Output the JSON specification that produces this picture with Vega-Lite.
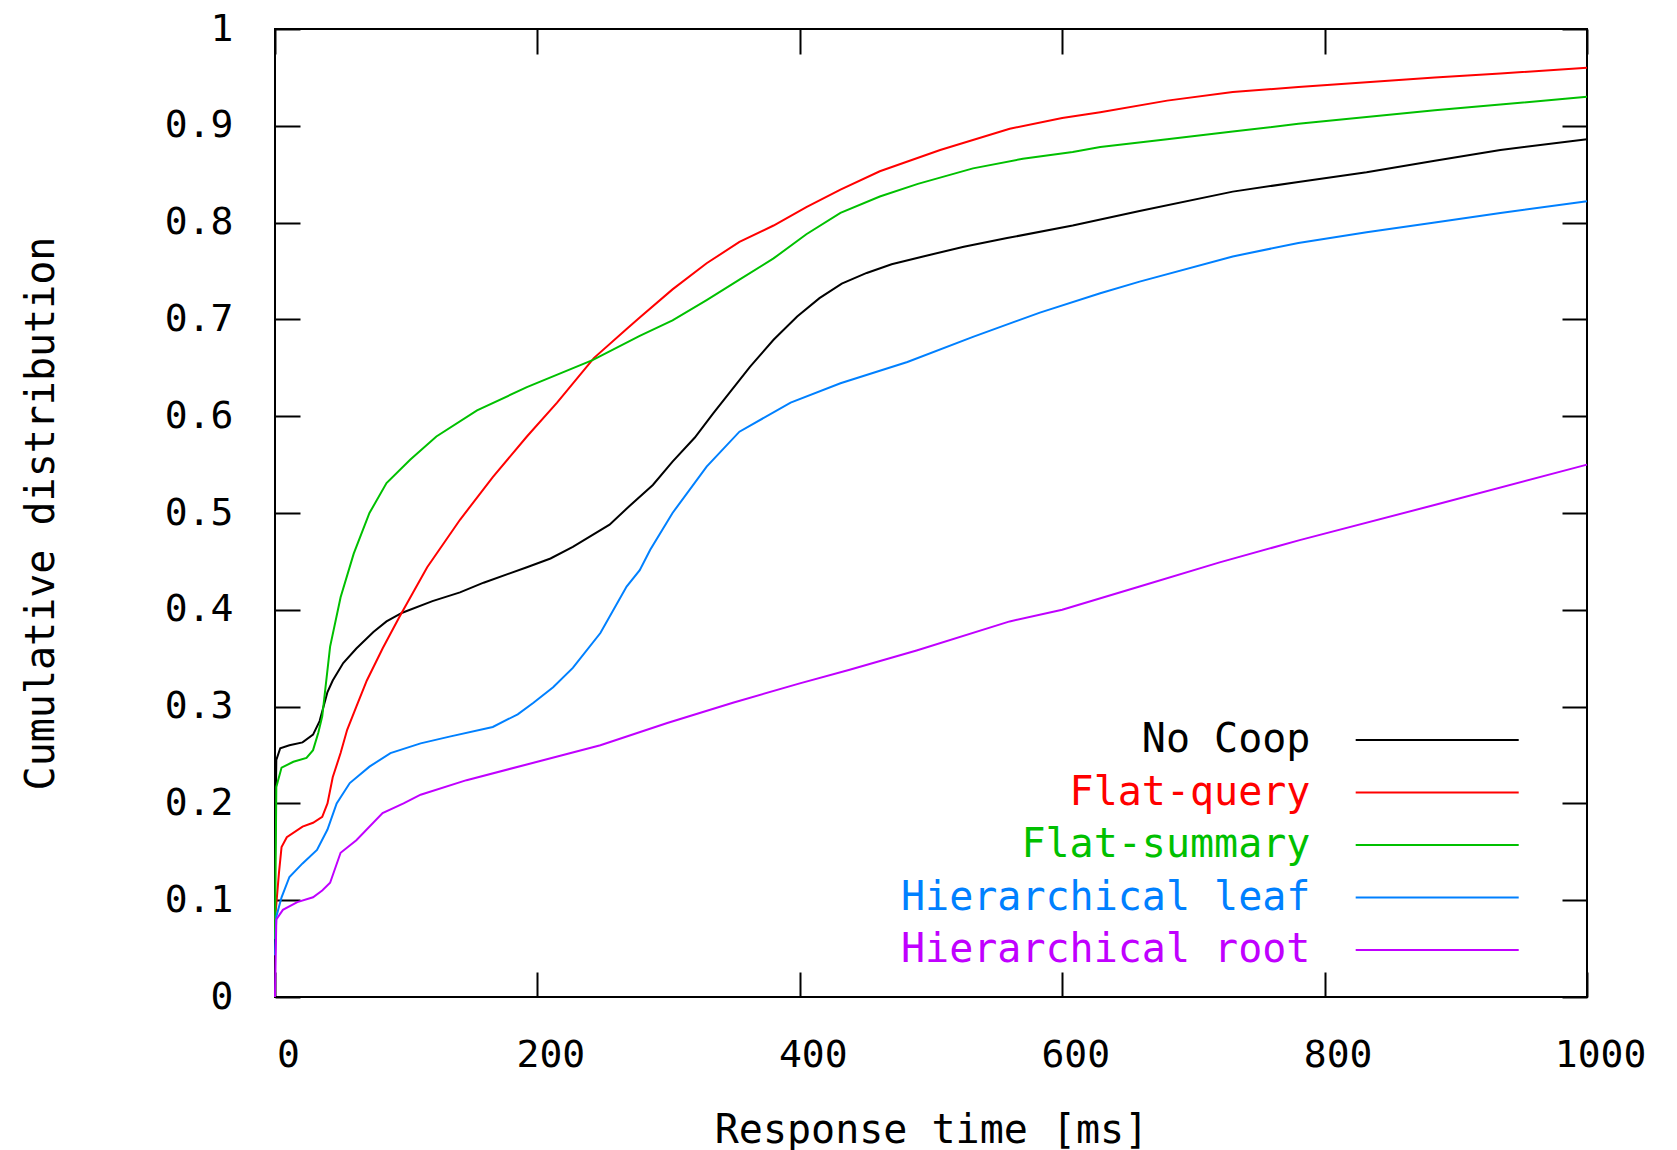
{
  "$schema": "https://vega.github.io/schema/vega-lite/v6.json",
  "width": 1312,
  "height": 968,
  "autosize": {"type": "none"},
  "padding": {"left": 275, "top": 29, "right": 90, "bottom": 153},
  "background": "white",
  "data": {"values": [
    {"s":"No Coop","t":0,"p":0.14},{"s":"No Coop","t":1,"p":0.245},{"s":"No Coop","t":4,"p":0.257},{"s":"No Coop","t":11,"p":0.26},{"s":"No Coop","t":21,"p":0.263},{"s":"No Coop","t":29,"p":0.271},{"s":"No Coop","t":34,"p":0.285},{"s":"No Coop","t":40,"p":0.315},{"s":"No Coop","t":44,"p":0.327},{"s":"No Coop","t":52,"p":0.345},{"s":"No Coop","t":62,"p":0.36},{"s":"No Coop","t":75,"p":0.377},{"s":"No Coop","t":85,"p":0.388},{"s":"No Coop","t":97,"p":0.397},{"s":"No Coop","t":120,"p":0.409},{"s":"No Coop","t":141,"p":0.418},{"s":"No Coop","t":159,"p":0.428},{"s":"No Coop","t":192,"p":0.444},{"s":"No Coop","t":210,"p":0.453},{"s":"No Coop","t":227,"p":0.465},{"s":"No Coop","t":255,"p":0.488},{"s":"No Coop","t":270,"p":0.507},{"s":"No Coop","t":288,"p":0.529},{"s":"No Coop","t":303,"p":0.553},{"s":"No Coop","t":320,"p":0.578},{"s":"No Coop","t":334,"p":0.603},{"s":"No Coop","t":362,"p":0.651},{"s":"No Coop","t":380,"p":0.679},{"s":"No Coop","t":398,"p":0.703},{"s":"No Coop","t":415,"p":0.722},{"s":"No Coop","t":432,"p":0.737},{"s":"No Coop","t":451,"p":0.748},{"s":"No Coop","t":470,"p":0.757},{"s":"No Coop","t":494,"p":0.765},{"s":"No Coop","t":525,"p":0.775},{"s":"No Coop","t":558,"p":0.784},{"s":"No Coop","t":608,"p":0.797},{"s":"No Coop","t":659,"p":0.812},{"s":"No Coop","t":730,"p":0.832},{"s":"No Coop","t":780,"p":0.842},{"s":"No Coop","t":832,"p":0.852},{"s":"No Coop","t":884,"p":0.864},{"s":"No Coop","t":934,"p":0.875},{"s":"No Coop","t":1000,"p":0.886},
    {"s":"Flat-query","t":0,"p":0.08},{"s":"Flat-query","t":3,"p":0.128},{"s":"Flat-query","t":5,"p":0.155},{"s":"Flat-query","t":9,"p":0.165},{"s":"Flat-query","t":21,"p":0.176},{"s":"Flat-query","t":29,"p":0.18},{"s":"Flat-query","t":36,"p":0.186},{"s":"Flat-query","t":40,"p":0.2},{"s":"Flat-query","t":44,"p":0.227},{"s":"Flat-query","t":50,"p":0.252},{"s":"Flat-query","t":55,"p":0.276},{"s":"Flat-query","t":62,"p":0.3},{"s":"Flat-query","t":70,"p":0.327},{"s":"Flat-query","t":82,"p":0.36},{"s":"Flat-query","t":95,"p":0.393},{"s":"Flat-query","t":116,"p":0.444},{"s":"Flat-query","t":141,"p":0.493},{"s":"Flat-query","t":166,"p":0.537},{"s":"Flat-query","t":192,"p":0.579},{"s":"Flat-query","t":215,"p":0.614},{"s":"Flat-query","t":243,"p":0.66},{"s":"Flat-query","t":268,"p":0.69},{"s":"Flat-query","t":278,"p":0.702},{"s":"Flat-query","t":303,"p":0.731},{"s":"Flat-query","t":329,"p":0.758},{"s":"Flat-query","t":354,"p":0.78},{"s":"Flat-query","t":380,"p":0.797},{"s":"Flat-query","t":405,"p":0.816},{"s":"Flat-query","t":431,"p":0.834},{"s":"Flat-query","t":461,"p":0.853},{"s":"Flat-query","t":507,"p":0.875},{"s":"Flat-query","t":560,"p":0.897},{"s":"Flat-query","t":600,"p":0.908},{"s":"Flat-query","t":629,"p":0.914},{"s":"Flat-query","t":680,"p":0.926},{"s":"Flat-query","t":730,"p":0.935},{"s":"Flat-query","t":780,"p":0.94},{"s":"Flat-query","t":832,"p":0.945},{"s":"Flat-query","t":884,"p":0.95},{"s":"Flat-query","t":934,"p":0.954},{"s":"Flat-query","t":1000,"p":0.96},
    {"s":"Flat-summary","t":0,"p":0.06},{"s":"Flat-summary","t":1,"p":0.217},{"s":"Flat-summary","t":5,"p":0.237},{"s":"Flat-summary","t":14,"p":0.243},{"s":"Flat-summary","t":24,"p":0.247},{"s":"Flat-summary","t":29,"p":0.255},{"s":"Flat-summary","t":33,"p":0.273},{"s":"Flat-summary","t":36,"p":0.29},{"s":"Flat-summary","t":42,"p":0.362},{"s":"Flat-summary","t":50,"p":0.413},{"s":"Flat-summary","t":60,"p":0.458},{"s":"Flat-summary","t":72,"p":0.5},{"s":"Flat-summary","t":85,"p":0.531},{"s":"Flat-summary","t":103,"p":0.555},{"s":"Flat-summary","t":123,"p":0.579},{"s":"Flat-summary","t":154,"p":0.606},{"s":"Flat-summary","t":192,"p":0.63},{"s":"Flat-summary","t":242,"p":0.658},{"s":"Flat-summary","t":278,"p":0.683},{"s":"Flat-summary","t":303,"p":0.699},{"s":"Flat-summary","t":329,"p":0.72},{"s":"Flat-summary","t":354,"p":0.741},{"s":"Flat-summary","t":380,"p":0.763},{"s":"Flat-summary","t":405,"p":0.788},{"s":"Flat-summary","t":431,"p":0.81},{"s":"Flat-summary","t":461,"p":0.827},{"s":"Flat-summary","t":490,"p":0.84},{"s":"Flat-summary","t":532,"p":0.856},{"s":"Flat-summary","t":570,"p":0.866},{"s":"Flat-summary","t":608,"p":0.873},{"s":"Flat-summary","t":629,"p":0.878},{"s":"Flat-summary","t":680,"p":0.886},{"s":"Flat-summary","t":730,"p":0.894},{"s":"Flat-summary","t":780,"p":0.902},{"s":"Flat-summary","t":832,"p":0.909},{"s":"Flat-summary","t":884,"p":0.916},{"s":"Flat-summary","t":934,"p":0.922},{"s":"Flat-summary","t":1000,"p":0.93},
    {"s":"Hierarchical leaf","t":0,"p":0.043},{"s":"Hierarchical leaf","t":1,"p":0.083},{"s":"Hierarchical leaf","t":5,"p":0.103},{"s":"Hierarchical leaf","t":11,"p":0.124},{"s":"Hierarchical leaf","t":21,"p":0.138},{"s":"Hierarchical leaf","t":32,"p":0.152},{"s":"Hierarchical leaf","t":40,"p":0.173},{"s":"Hierarchical leaf","t":47,"p":0.2},{"s":"Hierarchical leaf","t":57,"p":0.221},{"s":"Hierarchical leaf","t":72,"p":0.238},{"s":"Hierarchical leaf","t":88,"p":0.252},{"s":"Hierarchical leaf","t":111,"p":0.262},{"s":"Hierarchical leaf","t":133,"p":0.269},{"s":"Hierarchical leaf","t":166,"p":0.279},{"s":"Hierarchical leaf","t":185,"p":0.292},{"s":"Hierarchical leaf","t":197,"p":0.304},{"s":"Hierarchical leaf","t":212,"p":0.32},{"s":"Hierarchical leaf","t":227,"p":0.34},{"s":"Hierarchical leaf","t":248,"p":0.376},{"s":"Hierarchical leaf","t":268,"p":0.424},{"s":"Hierarchical leaf","t":278,"p":0.441},{"s":"Hierarchical leaf","t":286,"p":0.462},{"s":"Hierarchical leaf","t":303,"p":0.5},{"s":"Hierarchical leaf","t":329,"p":0.548},{"s":"Hierarchical leaf","t":354,"p":0.584},{"s":"Hierarchical leaf","t":393,"p":0.614},{"s":"Hierarchical leaf","t":431,"p":0.634},{"s":"Hierarchical leaf","t":482,"p":0.656},{"s":"Hierarchical leaf","t":532,"p":0.682},{"s":"Hierarchical leaf","t":583,"p":0.707},{"s":"Hierarchical leaf","t":629,"p":0.727},{"s":"Hierarchical leaf","t":659,"p":0.739},{"s":"Hierarchical leaf","t":730,"p":0.765},{"s":"Hierarchical leaf","t":780,"p":0.779},{"s":"Hierarchical leaf","t":832,"p":0.79},{"s":"Hierarchical leaf","t":884,"p":0.8},{"s":"Hierarchical leaf","t":934,"p":0.81},{"s":"Hierarchical leaf","t":1000,"p":0.822},
    {"s":"Hierarchical root","t":0,"p":0},{"s":"Hierarchical root","t":1,"p":0.08},{"s":"Hierarchical root","t":6,"p":0.09},{"s":"Hierarchical root","t":17,"p":0.098},{"s":"Hierarchical root","t":29,"p":0.103},{"s":"Hierarchical root","t":36,"p":0.11},{"s":"Hierarchical root","t":42,"p":0.118},{"s":"Hierarchical root","t":50,"p":0.149},{"s":"Hierarchical root","t":62,"p":0.162},{"s":"Hierarchical root","t":82,"p":0.19},{"s":"Hierarchical root","t":98,"p":0.2},{"s":"Hierarchical root","t":111,"p":0.209},{"s":"Hierarchical root","t":146,"p":0.224},{"s":"Hierarchical root","t":197,"p":0.242},{"s":"Hierarchical root","t":248,"p":0.26},{"s":"Hierarchical root","t":299,"p":0.283},{"s":"Hierarchical root","t":349,"p":0.304},{"s":"Hierarchical root","t":400,"p":0.324},{"s":"Hierarchical root","t":438,"p":0.338},{"s":"Hierarchical root","t":489,"p":0.358},{"s":"Hierarchical root","t":560,"p":0.388},{"s":"Hierarchical root","t":600,"p":0.4},{"s":"Hierarchical root","t":659,"p":0.424},{"s":"Hierarchical root","t":720,"p":0.449},{"s":"Hierarchical root","t":781,"p":0.472},{"s":"Hierarchical root","t":883,"p":0.508},{"s":"Hierarchical root","t":1000,"p":0.55}
  ]},
  "layer": [
    {
      "transform": [{"filter": {"field": "s", "oneOf": ["No Coop", "Flat-query", "Flat-summary"]}}],
      "mark": {"type": "line", "strokeWidth": 2, "interpolate": "linear"},
      "encoding": {
        "x": {"field": "t", "type": "quantitative",
              "scale": {"domain": [0, 1000], "nice": false, "zero": false},
              "axis": {"orient": "bottom", "values": [0, 200, 400, 600, 800, 1000], "format": "d", "title": "Response time [ms]",
                       "domain": false, "grid": false, "ticks": true, "tickSize": -25, "tickWidth": 2, "tickColor": "black",
                       "labelBaseline": "alphabetic", "labelPadding": 94, "labelOffset": 13, "labelFlush": false,
                       "titleX": 656, "titleY": 145, "titleBaseline": "alphabetic", "titleAlign": "center"}},
        "y": {"field": "p", "type": "quantitative",
              "scale": {"domain": [0, 1], "nice": false, "zero": false},
              "axis": {"orient": "left", "values": [0, 0.1, 0.2, 0.3, 0.4, 0.5, 0.6, 0.7, 0.8, 0.9, 1], "format": ".1~f",
                       "title": "Cumulative distribution",
                       "domain": false, "grid": false, "ticks": true, "tickSize": -25, "tickWidth": 2, "tickColor": "black",
                       "labelPadding": 67, "labelBaseline": "middle", "labelFlush": false,
                       "titleX": -234, "titleY": 484, "titleAngle": -90, "titleAlign": "center", "titleBaseline": "middle"}},
        "color": {"field": "s", "type": "nominal",
                  "scale": {"domain": ["No Coop", "Flat-query", "Flat-summary", "Hierarchical leaf", "Hierarchical root"],
                            "range": ["#000000", "#ff0000", "#00c000", "#0080ff", "#c000ff"]},
                  "legend": {"orient": "none", "legendX": 1142.2, "legendY": 691, "title": null, "padding": 0,
                             "symbolType": "M-5,0H5", "symbolSize": 1063, "symbolStrokeWidth": 2, "rowPadding": 12.5,
                             "labelAlign": "right", "labelOffset": -146.8, "labelFont": "DejaVu Sans Mono", "labelFontSize": 40,
                             "labelLimit": 0, "labelBaseline": "middle",
                             "encode": {"labels": {"update": {"fill": {"scale": "color", "field": "value"}}}}}}
      }
    },
    {
      "transform": [{"filter": {"field": "s", "oneOf": ["Hierarchical leaf", "Hierarchical root"]}}],
      "mark": {"type": "line", "strokeWidth": 2, "interpolate": "linear"},
      "encoding": {
        "x": {"field": "t", "type": "quantitative",
              "axis": {"orient": "top", "values": [0, 200, 400, 600, 800, 1000], "title": null, "labels": false,
                       "domain": false, "grid": false, "ticks": true, "tickSize": -25, "tickWidth": 2, "tickColor": "black"}},
        "y": {"field": "p", "type": "quantitative",
              "axis": {"orient": "right", "values": [0, 0.1, 0.2, 0.3, 0.4, 0.5, 0.6, 0.7, 0.8, 0.9, 1], "title": null, "labels": false,
                       "domain": false, "grid": false, "ticks": true, "tickSize": -25, "tickWidth": 2, "tickColor": "black"}},
        "color": {"field": "s", "type": "nominal"}
      }
    }
  ],
  "resolve": {"axis": {"x": "independent", "y": "independent"}},
  "config": {
    "view": {"stroke": "black", "strokeWidth": 2},
    "font": "DejaVu Sans Mono",
    "axis": {"labelFont": "DejaVu Sans Mono", "labelFontSize": 38, "labelColor": "black", "labelFontWeight": "normal",
             "titleFont": "DejaVu Sans Mono", "titleFontSize": 40, "titleColor": "black", "titleFontWeight": "normal"}
  }
}
